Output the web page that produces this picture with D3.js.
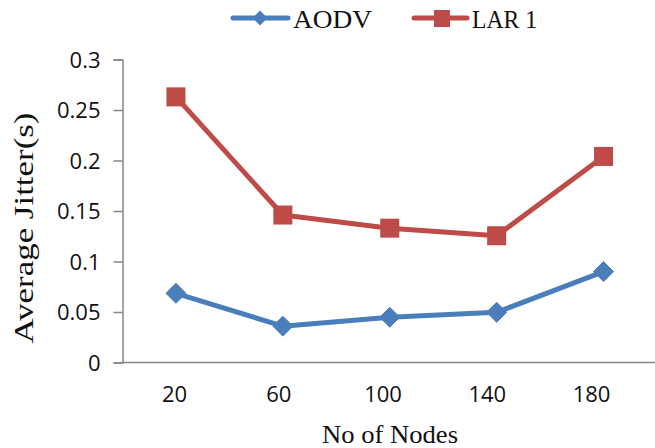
<!DOCTYPE html>
<html>
<head>
<meta charset="utf-8">
<script src="https://cdn.jsdelivr.net/npm/d3@7"></script>
<style>
  html, body { margin: 0; padding: 0; background: #fff; }
  svg { display: block; }
</style>
</head>
<body>
<svg id="chart" width="655" height="448"></svg>
<script>
// Average jitter per routing protocol against network size
const nodes = ["20", "60", "100", "140", "180"];
const aodv = [0.0685, 0.036, 0.0448, 0.0497, 0.090];
const lar1 = [0.263, 0.146, 0.133, 0.1255, 0.204];
const yTicks = [0, 0.05, 0.1, 0.15, 0.2, 0.25, 0.3];
const yTickLabels = ["0", "0.05", "0.1", "0.15", "0.2", "0.25", "0.3"];

const svg = d3.select("#chart");
const axisColor = "#868686";
const blue = "#4a7ebb";
const red = "#be4b48";

const plot = { left: 122.5, right: 657, top: 59.5, bottom: 362.5 };

const x = d3.scaleBand().domain(nodes).range([plot.left, plot.right]);
const xLabel = d3.scalePoint().domain(nodes).range([174, 591]);
const y = d3.scaleLinear().domain([0, 0.3]).range([plot.bottom, plot.top]);

// y axis
const yAxis = d3.axisLeft(y).tickValues(yTicks).tickSize(9).tickFormat((d, i) => yTickLabels[i]);
const gy = svg.append("g").attr("transform", `translate(${plot.left},0)`).call(yAxis);
gy.select(".domain").attr("stroke", axisColor).attr("stroke-width", 1.5);
gy.selectAll(".tick line").attr("stroke", axisColor).attr("stroke-width", 1.5);
gy.selectAll(".tick text")
  .attr("x", -22).attr("dy", "0.36em")
  .attr("fill", "#111")
  .style("font-family", "'Open Sans', sans-serif").style("font-size", "22px");

// x axis line
svg.append("line")
  .attr("x1", plot.left).attr("x2", plot.right)
  .attr("y1", plot.bottom).attr("y2", plot.bottom)
  .attr("stroke", axisColor).attr("stroke-width", 1.5);

// x category labels
const xAxis = d3.axisBottom(xLabel).tickSize(0).tickPadding(0);
const gx = svg.append("g").attr("transform", `translate(0,${plot.bottom})`).call(xAxis);
gx.select(".domain").remove();
gx.selectAll(".tick text")
  .attr("y", 32).attr("dy", "0.36em")
  .attr("fill", "#111")
  .style("font-family", "'Open Sans', sans-serif").style("font-size", "22px");

const cx = d => x(d) + x.bandwidth() / 2;
const line = d3.line().x(d => cx(d.k)).y(d => y(d.v));

function series(values, color) {
  const pts = nodes.map((k, i) => ({ k, v: values[i] }));
  svg.append("path").datum(pts)
    .attr("d", line).attr("fill", "none")
    .attr("stroke", color).attr("stroke-width", 5)
    .attr("stroke-linejoin", "round").attr("stroke-linecap", "round");
  return pts;
}

const aodvPts = series(aodv, blue);
const larPts = series(lar1, red);

// diamond markers
svg.append("g").selectAll("path").data(aodvPts).join("path")
  .attr("d", "M0,-10L10,0L0,10L-10,0Z")
  .attr("transform", d => `translate(${cx(d.k)},${y(d.v)})`)
  .attr("fill", blue).attr("stroke", blue).attr("stroke-width", 1).attr("stroke-linejoin", "round");

// square markers
svg.append("g").selectAll("rect").data(larPts).join("rect")
  .attr("x", d => cx(d.k) - 9.5).attr("y", d => y(d.v) - 9.5)
  .attr("width", 19).attr("height", 19)
  .attr("fill", red);

// axis titles
svg.append("text")
  .attr("x", 390).attr("y", 443)
  .attr("text-anchor", "middle")
  .attr("textLength", 136).attr("lengthAdjust", "spacingAndGlyphs")
  .attr("fill", "#111")
  .style("font-family", "'Liberation Serif', 'Times New Roman', serif").style("font-size", "25px")
  .text("No of Nodes");

svg.append("text")
  .attr("transform", "translate(33,228) rotate(-90)")
  .attr("text-anchor", "middle")
  .attr("textLength", 231).attr("lengthAdjust", "spacingAndGlyphs")
  .attr("fill", "#111")
  .style("font-family", "'Liberation Serif', 'Times New Roman', serif").style("font-size", "27px")
  .text("Average Jitter(s)");

// legend
const legend = svg.append("g");
legend.append("line").attr("x1", 233).attr("x2", 288).attr("y1", 18).attr("y2", 18)
  .attr("stroke", blue).attr("stroke-width", 5).attr("stroke-linecap", "round");
legend.append("path").attr("d", "M0,-7.5L7.5,0L0,7.5L-7.5,0Z")
  .attr("transform", "translate(260,18)").attr("fill", blue);
legend.append("text").attr("x", 293).attr("y", 28)
  .attr("textLength", 79).attr("lengthAdjust", "spacingAndGlyphs")
  .attr("fill", "#111")
  .style("font-family", "'Liberation Serif', 'Times New Roman', serif").style("font-size", "25px")
  .text("AODV");

legend.append("line").attr("x1", 414).attr("x2", 467).attr("y1", 18).attr("y2", 18)
  .attr("stroke", red).attr("stroke-width", 5).attr("stroke-linecap", "round");
legend.append("rect").attr("x", 434).attr("y", 10).attr("width", 16).attr("height", 17)
  .attr("fill", red);
legend.append("text").attr("x", 472).attr("y", 28)
  .attr("textLength", 65).attr("lengthAdjust", "spacingAndGlyphs")
  .attr("fill", "#111")
  .style("font-family", "'Liberation Serif', 'Times New Roman', serif").style("font-size", "25px")
  .text("LAR 1");
</script>
</body>
</html>
